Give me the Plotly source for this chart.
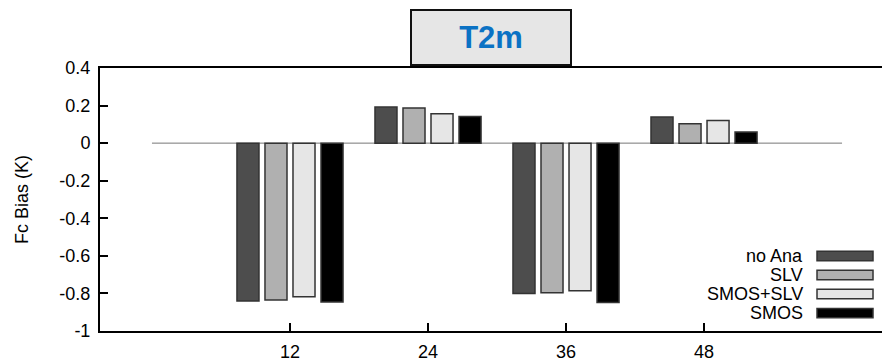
import plotly.graph_objects as go

# ---- data ----
lead_times = [12, 24, 36, 48]
series_names = ["no Ana", "SLV", "SMOS+SLV", "SMOS"]
no_ana = [-0.84, 0.192, -0.80, 0.139]
slv = [-0.835, 0.187, -0.797, 0.103]
smos_slv = [-0.818, 0.156, -0.786, 0.121]
smos = [-0.845, 0.142, -0.848, 0.059]
y_ticks = [-1, -0.8, -0.6, -0.4, -0.2, 0, 0.2, 0.4]
y_tick_text = ["-1", "-0.8", "-0.6", "-0.4", "-0.2", "0", "0.2", "0.4"]
baseline_x = [0, 60]
title_text = "T2m"
y_title = "Fc Bias (K)"

colors = ["#4d4d4d", "#b0b0b0", "#e6e6e6", "#000000"]
FONT = "Liberation Sans, Arial, sans-serif"

fig = go.Figure()
for name, vals, col in zip(series_names, [no_ana, slv, smos_slv, smos], colors):
    fig.add_trace(go.Bar(
        x=lead_times, y=vals, name=name,
        marker=dict(color=col, line=dict(color="#333333", width=1.5)),
        showlegend=False,
    ))

# baseline at zero
fig.add_shape(type="line", xref="x", yref="y",
              x0=baseline_x[0], x1=baseline_x[1], y0=0, y1=0,
              line=dict(color="#777777", width=1), layer="below")

# custom legend (labels to the left of the swatches)
leg_y = [0.285, 0.213, 0.141, 0.068]
for name, col, yy in zip(series_names, colors, leg_y):
    fig.add_annotation(xref="paper", yref="paper", x=0.8924, y=yy,
                       text=name, showarrow=False, xanchor="right", yanchor="middle",
                       font=dict(family=FONT, size=18, color="#000000"))
    fig.add_shape(type="rect", xref="paper", yref="paper",
                  x0=0.9076, x1=0.9785, y0=yy - 0.018, y1=yy + 0.018,
                  fillcolor=col, line=dict(color="#333333", width=1.5))

# title box
fig.add_annotation(xref="paper", yref="paper", x=0.495, y=1.116,
                   text="<b>%s</b>" % title_text, showarrow=False,
                   xanchor="center", yanchor="middle",
                   width=158, height=53, borderpad=0,
                   bgcolor="#e6e6e6", bordercolor="#111111", borderwidth=2,
                   font=dict(family=FONT, size=31, color="#0B72C4"))

fig.update_layout(
    width=882, height=354,
    margin=dict(l=92, r=0, t=60, b=31),
    paper_bgcolor="white", plot_bgcolor="white",
    barmode="group", bargap=0.188, bargroupgap=0.214,
    font=dict(family=FONT, size=18, color="#000000"),
    xaxis=dict(range=[-4.52, 64.17], tickvals=lead_times,
               ticktext=[str(v) for v in lead_times],
               ticks="inside", ticklen=8, tickwidth=1.5, tickcolor="#000000",
               showline=True, linecolor="#000000", linewidth=2,
               mirror=True, showgrid=False, zeroline=False,
               tickfont=dict(family=FONT, size=18), ticklabelstandoff=3),
    yaxis=dict(range=[-1, 0.4], tickvals=y_ticks, ticktext=y_tick_text,
               ticks="inside", ticklen=8, tickwidth=1.5, tickcolor="#000000",
               showline=True, linecolor="#000000", linewidth=2,
               showgrid=False, zeroline=False,
               tickfont=dict(family=FONT, size=18), ticklabelstandoff=4,
               title=dict(text=y_title, font=dict(family=FONT, size=18), standoff=26)),
    yaxis2=dict(range=[-1, 0.4], overlaying="y", side="right",
                tickvals=y_ticks, ticks="inside", ticklen=4, tickwidth=1.5,
                tickcolor="#000000", showticklabels=False, showline=False,
                showgrid=False, zeroline=False),
)
# invisible trace so the right axis is drawn
fig.add_trace(go.Scatter(x=[lead_times[0]], y=[0], yaxis="y2", mode="markers",
                         marker=dict(opacity=0), showlegend=False, hoverinfo="skip"))

fig.write_html("out.html")
